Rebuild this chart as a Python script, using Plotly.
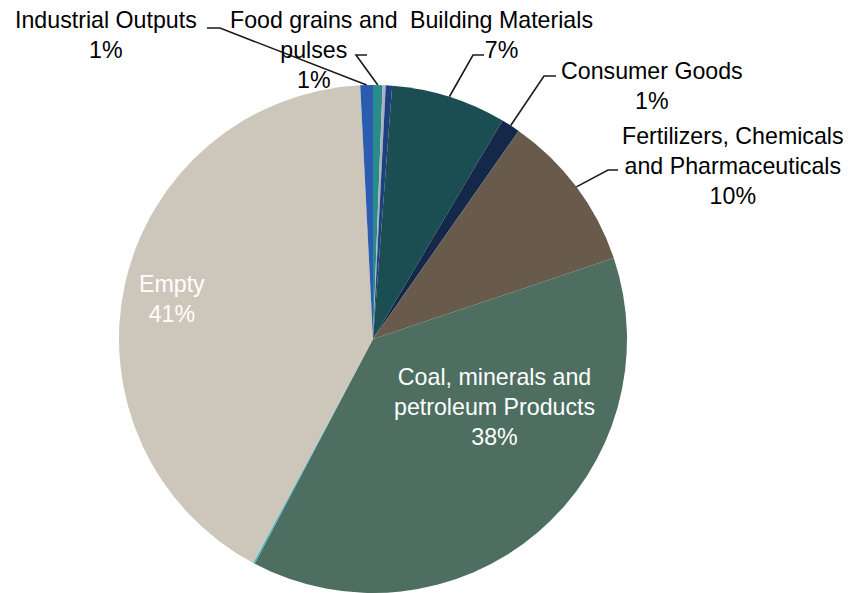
import math
import plotly.graph_objects as go

# slices, clockwise from 12 o'clock
categories = [
  "Food grains and pulses", "Other goods", "Containers", "Building Materials",
  "Consumer Goods", "Fertilizers, Chemicals and Pharmaceuticals",
  "Coal, minerals and petroleum Products", "Miscellaneous", "Empty",
  "Industrial Outputs",
]
shares = [0.6, 0.2, 0.4, 7.3, 1.2, 10.1, 37.8, 0.1, 41.3, 0.8]
colors = [
  "#2a8c8a", "#a9b3bd", "#1e3f80", "#1b4e52", "#14294a", "#695b4b",
  "#4d6e60", "#3bb8c8", "#cdc6bb", "#2a5db0",
]
label_text = [
  "Food grains and<br>pulses", "", "", "Building Materials", "Consumer Goods",
  "Fertilizers, Chemicals<br>and Pharmaceuticals",
  "Coal, minerals and<br>petroleum Products", "", "Empty", "Industrial Outputs",
]

W, H = 852, 593
CX, CY, R = 373, 339, 254
FONT = "Liberation Sans, Arial, sans-serif"
FS = 23.2

def px(x, y):
  return x / W, 1 - y / H

fig = go.Figure(go.Pie(
  labels=categories,
  values=shares,
  sort=False,
  direction="clockwise",
  rotation=0,
  marker={"colors": colors, "line": {"width": 0}},
  textinfo="none",
  hoverinfo="label+percent",
  showlegend=False,
  domain={"x": [(CX - R) / W, (CX + R) / W], "y": [(H - CY - R) / H, (H - CY + R) / H]},
))

total = sum(shares)
mid_angle = []
acc = 0
for v in shares:
  mid_angle.append((acc + v / 2) / total * 360)
  acc += v

# label placement (pixels): text centre, elbow start, elbow end
outside = {
  "Industrial Outputs": ((106, 35), (207, 28), (220, 28)),
  "Food grains and pulses": ((314, 50), (367, 55), (356, 55)),
  "Building Materials": ((501, 35), (484, 55), (473, 55)),
  "Consumer Goods": ((652, 86), (556, 76), (544, 76)),
  "Fertilizers, Chemicals and Pharmaceuticals": ((733, 166), (618, 170), (608, 170)),
}
inside = {
  "Coal, minerals and petroleum Products": (494, 407),
  "Empty": (172, 299),
}

annotations = []
shapes = []
for i, cat in enumerate(categories):
  pct = f"{round(shares[i] / total * 100)}%"
  if cat in outside:
    (tx, ty), (ax, ay), (bx, by) = outside[cat]
    a = math.radians(mid_angle[i])
    ex, ey = CX + R * math.sin(a), CY - R * math.cos(a)
    x, y = px(tx, ty)
    annotations.append(dict(
      x=x, y=y, xref="paper", yref="paper", showarrow=False,
      text=f"{label_text[i]}<br>{pct}", align="center",
      xanchor="center", yanchor="middle",
      font={"family": FONT, "size": FS, "color": "#000000"},
    ))
    p1, p2, p3 = px(ax, ay), px(bx, by), px(ex, ey)
    shapes.append(dict(
      type="path", xref="paper", yref="paper",
      path=f"M {p1[0]},{p1[1]} L {p2[0]},{p2[1]} L {p3[0]},{p3[1]}",
      line={"color": "#1a1a1a", "width": 1.6},
    ))
  elif cat in inside:
    x, y = px(*inside[cat])
    annotations.append(dict(
      x=x, y=y, xref="paper", yref="paper", showarrow=False,
      text=f"{label_text[i]}<br>{pct}", align="center",
      xanchor="center", yanchor="middle",
      font={"family": FONT, "size": FS, "color": "#ffffff"},
    ))

fig.update_layout({
  "width": W, "height": H,
  "margin": {"l": 0, "r": 0, "t": 0, "b": 0},
  "paper_bgcolor": "white",
  "plot_bgcolor": "white",
  "annotations": annotations,
  "shapes": shapes,
})

fig.write_html(
  "out.html",
  config={"displayModeBar": False},
  post_script="document.body.style.margin='0px';",
)
